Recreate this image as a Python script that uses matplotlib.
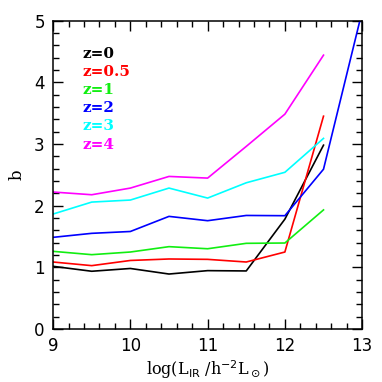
import matplotlib
matplotlib.use("Agg")
import matplotlib.pyplot as plt
from matplotlib.ticker import MultipleLocator

logL = [9, 9.5, 10, 10.5, 11, 11.5, 12, 12.5]
logL_z2 = [9, 9.5, 10, 10.5, 11, 11.5, 12, 12.5, 13]
b_z0 = [1.015, 0.935, 0.98, 0.89, 0.945, 0.94, 1.78, 2.98]
b_z05 = [1.085, 1.026, 1.11, 1.134, 1.128, 1.085, 1.247, 3.45]
b_z1 = [1.258, 1.204, 1.247, 1.334, 1.30, 1.388, 1.393, 1.93]
b_z2 = [1.485, 1.55, 1.58, 1.825, 1.755, 1.84, 1.836, 2.59, 5.15]
b_z3 = [1.863, 2.057, 2.09, 2.284, 2.122, 2.37, 2.54, 3.09]
b_z4 = [2.22, 2.176, 2.284, 2.473, 2.446, 2.96, 3.483, 4.44]

labels = ["z=0", "z=0.5", "z=1", "z=2", "z=3", "z=4"]
colors = ["black", "#ff0000", "#11ee11", "#0000ff", "#00ffff", "#ff00ff"]

fig = plt.figure(figsize=(3.82, 3.82), dpi=100)
ax = fig.add_axes([0.139, 0.139, 0.809, 0.807])

series = [(logL, b_z0), (logL, b_z05), (logL, b_z1), (logL_z2, b_z2), (logL, b_z3), (logL, b_z4)]
for (x, y), c in zip(series, colors):
    ax.plot(x, y, color=c, lw=1.2)

ax.set_xlim(9, 13)
ax.set_ylim(0, 5)
ax.xaxis.set_major_locator(MultipleLocator(1))
ax.xaxis.set_minor_locator(MultipleLocator(0.2))
ax.yaxis.set_major_locator(MultipleLocator(1))
ax.yaxis.set_minor_locator(MultipleLocator(0.2))
ax.tick_params(which="both", direction="in", top=True, right=True, width=1.0)
ax.tick_params(which="major", length=7, labelsize=12, pad=6)
ax.tick_params(which="minor", length=4)
for s in ax.spines.values():
    s.set_linewidth(1.1)

ax.set_xlabel(r"log(L$_{\rm IR}$ /h$^{-2}$L$_\odot$)", family="DejaVu Serif", fontsize=11.5, labelpad=2)
ax.set_ylabel("b", family="DejaVu Serif", fontsize=12, labelpad=6)

for i, (lab, c) in enumerate(zip(labels, colors)):
    ax.text(0.095, 0.893 - i * 0.059, lab, color=c, transform=ax.transAxes,
            family="DejaVu Serif", fontweight="bold", fontsize=11, va="center", ha="left")

fig.savefig("out.png", dpi=100)
